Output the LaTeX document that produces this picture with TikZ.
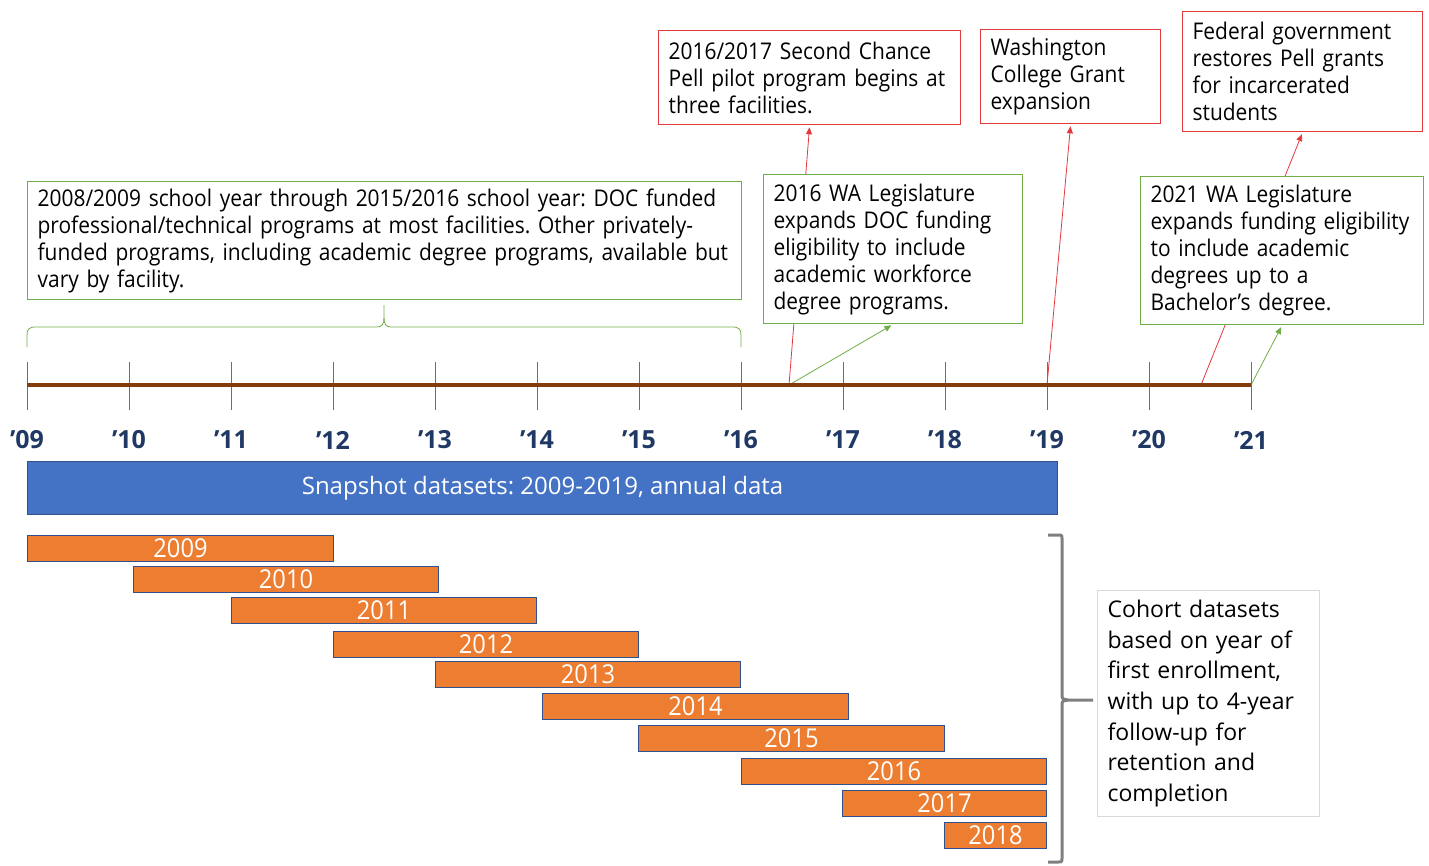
\documentclass[tikz,border=0pt]{standalone}
\usepackage{fontspec}
\setmainfont{Open Sans}
\newfontfamily\narrowfont{Open Sans}[FakeStretch=0.91]
\usetikzlibrary{arrows.meta,backgrounds}
\definecolor{evred}{HTML}{E2393F}
\definecolor{evgreen}{HTML}{70AD47}
\definecolor{tickblue}{HTML}{4472C4}
\definecolor{linebrown}{HTML}{843C0C}
\definecolor{yearnavy}{HTML}{1F3864}
\definecolor{snapblue}{HTML}{4472C4}
\definecolor{snapedge}{HTML}{2F528F}
\definecolor{cohortorange}{HTML}{ED7D31}
\definecolor{bracegray}{HTML}{7F7F7F}
\definecolor{noteedge}{HTML}{D9D9D9}
\frenchspacing
\begin{document}
\begin{tikzpicture}[x=1pt, y=-1pt,
    note/.style={draw, fill=white, line width=1.3pt, inner xsep=10pt, inner ysep=0pt,
      anchor=north west, align=left, font=\narrowfont\fontsize{23}{27}\selectfont},
    pellnote/.style={note, draw=evred},
    lawnote/.style={note, draw=evgreen},
    yearlbl/.style={font=\bfseries\fontsize{25}{25}\selectfont, text=yearnavy},
    tick/.style={tickblue, line width=0.8pt},
    cohortbar/.style={draw=snapedge, line width=1pt, fill=cohortorange, text=white,
      anchor=north west, minimum height=26pt, inner sep=0pt,
      font=\narrowfont\fontsize{26}{26}\selectfont},
    redarr/.style={evred, line width=0.8pt, shorten >=2pt, -{Triangle[length=7pt,width=6pt]}},
    greenarr/.style={evgreen, line width=0.8pt, shorten >=2pt, -{Triangle[length=7pt,width=6pt]}}]
  \useasboundingbox (0,0) rectangle (1429,865);

  % events above the timeline
  \node[pellnote, text width=282pt, minimum height=94pt] (pell) at (658,30)
    {2016/2017 Second Chance\\Pell pilot program begins at\\three facilities.};
  \node[pellnote, text width=160pt, minimum height=94pt] (wcg) at (980,29)
    {Washington\\College Grant\\expansion};
  \node[pellnote, text width=220pt, minimum height=120pt] (fed) at (1182,11)
    {Federal government\\restores Pell grants\\for incarcerated\\students};
  \node[lawnote, text width=694pt, minimum height=118pt] (docfund) at (27,181)
    {2008/2009 school year through 2015/2016 school year: DOC funded\\
     professional/technical programs at most facilities. Other privately-\\
     funded programs, including academic degree programs, available but\\
     vary by facility.};
  \node[lawnote, text width=239pt, minimum height=149pt] (law16) at (763,174)
    {2016 WA Legislature\\expands DOC funding\\eligibility to include\\academic workforce\\degree programs.};
  \node[lawnote, text width=263pt, minimum height=148pt] (law21) at (1140,176)
    {2021 WA Legislature\\expands funding eligibility\\to include academic\\degrees up to a\\Bachelor’s degree.};

  \draw[evgreen, line width=0.8pt] (27,347) -- (27,335) .. controls (27,329) and (29,327) .. (36,327)
    -- (377,327) .. controls (382,327) and (384,324) .. (384,318) -- (384,305);
  \draw[evgreen, line width=0.8pt] (384,318) .. controls (384,324) and (386,327) .. (391,327)
    -- (732,327) .. controls (739,327) and (741,329) .. (741,335) -- (741,347);

  % timeline
  \draw[tick] (27,362) -- (27,410);
  \draw[tick] (129,362) -- (129,410);
  \draw[tick] (231,362) -- (231,410);
  \draw[tick] (333,362) -- (333,410);
  \draw[tick] (435,362) -- (435,410);
  \draw[tick] (537,362) -- (537,410);
  \draw[tick] (639,362) -- (639,410);
  \draw[tick] (741,362) -- (741,410);
  \draw[tick] (843,362) -- (843,410);
  \draw[tick] (945,362) -- (945,410);
  \draw[tick] (1047,362) -- (1047,410);
  \draw[tick] (1149,362) -- (1149,410);
  \draw[tick] (1251,362) -- (1251,410);
  \coordinate (t09) at (27,385);
  \coordinate (t21) at (1251,385);
  \coordinate (mid16) at (789,385);
  \coordinate (at19) at (1047,385);
  \coordinate (mid20) at (1201,385);
  \draw[linebrown, line width=3.5pt] (t09) -- (t21);

  \begin{pgfonlayer}{background}
    \draw[redarr] (mid16) -- (pell.south);
    \draw[greenarr] (mid16) -- (law16.south);
    \draw[redarr] (at19) -- (wcg.south);
    \draw[redarr] (mid20) -- (fed.south);
    \draw[greenarr] (t21) -- (law21.south);
  \end{pgfonlayer}

  \node[yearlbl] (y09) at (27,440) {’09};
  \node[yearlbl] (y10) at (129,440) {’10};
  \node[yearlbl] (y11) at (231,440) {’11};
  \node[yearlbl] (y12) at (333,440) {’12};
  \node[yearlbl] (y13) at (435,440) {’13};
  \node[yearlbl] (y14) at (537,440) {’14};
  \node[yearlbl] (y15) at (639,440) {’15};
  \node[yearlbl] (y16) at (741,440) {’16};
  \node[yearlbl] (y17) at (843,440) {’17};
  \node[yearlbl] (y18) at (945,440) {’18};
  \node[yearlbl] (y19) at (1047,440) {’19};
  \node[yearlbl] (y20) at (1149,440) {’20};
  \node[yearlbl] (y21) at (1251,440) {’21};

  % datasets
  \node[draw=snapedge, line width=1pt, fill=snapblue, text=white, anchor=north west,
    minimum width=1030pt, minimum height=53pt, font=\fontsize{24}{24}\selectfont] (snap) at (27,461)
    {Snapshot datasets: 2009-2019, annual data};

  \node[cohortbar, minimum width=306pt] (c2009) at (27,535) {2009};
  \node[cohortbar, minimum width=305pt] (c2010) at (133,566) {2010};
  \node[cohortbar, minimum width=305pt] (c2011) at (231,597) {2011};
  \node[cohortbar, minimum width=305pt] (c2012) at (333,631) {2012};
  \node[cohortbar, minimum width=305pt] (c2013) at (435,661) {2013};
  \node[cohortbar, minimum width=306pt] (c2014) at (542,693) {2014};
  \node[cohortbar, minimum width=306pt] (c2015) at (638,725) {2015};
  \node[cohortbar, minimum width=305pt] (c2016) at (741,758) {2016};
  \node[cohortbar, minimum width=204pt] (c2017) at (842,790) {2017};
  \node[cohortbar, minimum width=102pt] (c2018) at (944,822) {2018};

  \draw[bracegray, line width=3pt, line join=round] (1048,535) -- (1058,535) .. controls (1062,535) .. (1062,539)
    -- (1062,694) .. controls (1062,699) .. (1068,700) -- (1093,700);
  \draw[bracegray, line width=3pt, line join=round] (1068,700) .. controls (1062,701) .. (1062,706)
    -- (1062,858) .. controls (1062,862) .. (1058,862) -- (1048,862);

  \node[draw=noteedge, line width=1.2pt, anchor=north west, align=left, inner xsep=10pt, inner ysep=0pt,
    text width=202pt, minimum height=226pt, font=\fontsize{23}{30.7}\selectfont] (cohort) at (1097,590)
    {Cohort datasets\\based on year of\\first enrollment,\\with up to 4-year\\follow-up for\\retention and\\completion};
\end{tikzpicture}
\end{document}
